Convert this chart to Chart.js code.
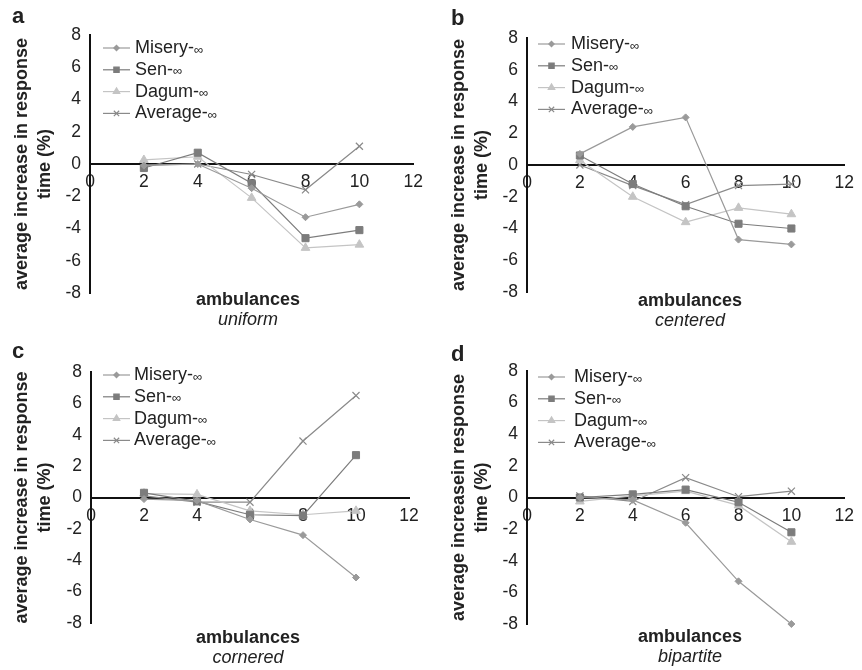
<!DOCTYPE html>
<html>
<head>
<meta charset="utf-8">
<script src="https://cdn.jsdelivr.net/npm/chart.js@4/dist/chart.umd.min.js"></script>
<style>
	body { margin: 0; background: #fff; }
	#wrap { position: relative; width: 862px; height: 670px; overflow: hidden; font-family: "Liberation Sans", Arial, sans-serif; color: #222; }
	canvas { position: absolute; }
	.lbl { position: absolute; font-weight: bold; font-size: 22px; line-height: 22px; }
	.xt { position: absolute; width: 200px; text-align: center; font-size: 18px; line-height: 20px; }
	.xt b { display: block; }
	.xt i { display: block; font-weight: normal; }
</style>
</head>
<body>
<div id="wrap">
	<canvas id="pa" width="431" height="335" style="left:0;top:0"></canvas>
	<canvas id="pb" width="431" height="335" style="left:431px;top:0"></canvas>
	<canvas id="pc" width="431" height="335" style="left:0;top:335px"></canvas>
	<canvas id="pd" width="431" height="335" style="left:431px;top:335px"></canvas>
	<div class="lbl" style="left:12px;top:5px">a</div>
	<div class="lbl" style="left:451px;top:7px">b</div>
	<div class="lbl" style="left:12px;top:340px">c</div>
	<div class="lbl" style="left:451px;top:343px">d</div>
	<div class="xt" style="left:148px;top:289px"><b>ambulances</b><i>uniform</i></div>
	<div class="xt" style="left:590px;top:290px"><b>ambulances</b><i>centered</i></div>
	<div class="xt" style="left:148px;top:627px"><b>ambulances</b><i>cornered</i></div>
	<div class="xt" style="left:590px;top:626px"><b>ambulances</b><i>bipartite</i></div>
</div>
<script>
var ambulances = [2, 4, 6, 8, 10]
var seriesNames = ['Misery-', 'Sen-', 'Dagum-', 'Average-']
var xTicks = [0, 2, 4, 6, 8, 10, 12]
var yTicks = [-8, -6, -4, -2, 0, 2, 4, 6, 8]

var uniformMisery = [-0.1, 0, -1.5, -3.3, -2.5]
var uniformSen = [-0.25, 0.7, -1.2, -4.6, -4.1]
var uniformDagum = [0.25, 0.45, -2.1, -5.2, -5.0]
var uniformAverage = [-0.05, 0, -0.65, -1.6, 1.1]

var centeredMisery = [0.7, 2.4, 3.0, -4.7, -5.0]
var centeredSen = [0.6, -1.2, -2.6, -3.7, -4.0]
var centeredDagum = [0.3, -2.0, -3.6, -2.7, -3.1]
var centeredAverage = [0, -1.3, -2.5, -1.3, -1.2]

var corneredMisery = [-0.1, -0.2, -1.4, -2.4, -5.1]
var corneredSen = [0.3, -0.25, -1.1, -1.15, 2.7]
var corneredDagum = [0.25, 0.2, -0.85, -1.1, -0.85]
var corneredAverage = [0.1, -0.3, -0.3, 3.6, 6.5]

var bipartiteMisery = [0, -0.15, -1.6, -5.3, -8.0]
var bipartiteSen = [0, 0.2, 0.5, -0.3, -2.2]
var bipartiteDagum = [-0.25, 0.1, 0.4, -0.5, -2.8]
var bipartiteAverage = [0.1, -0.25, 1.25, 0.05, 0.4]

var styles = [
	{ color: '#9a9a9a', point: 'rectRot', radius: 3.5 },
	{ color: '#7c7c7c', point: 'rect', radius: 5 },
	{ color: '#c4c4c4', point: 'triangle', radius: 5 },
	{ color: '#8a8a8a', point: 'crossRot', radius: 5 }
]

// legend drawn inside the plot, line with marker like the original
var lineLegend = {
	id: 'lineLegend',
	afterDatasetsDraw: function(chart, args, opts) {
		var ctx = chart.ctx
		var a = chart.chartArea
		ctx.save()
		chart.data.datasets.forEach(function(ds, i) {
			var y = a.top + opts.y + i * 21.8
			var x0 = a.left + opts.x
			ctx.strokeStyle = ds.borderColor
			ctx.lineWidth = 1.2
			ctx.beginPath()
			ctx.moveTo(x0, y)
			ctx.lineTo(x0 + 27, y)
			ctx.stroke()
			ctx.fillStyle = ds.backgroundColor
			Chart.helpers.drawPoint(ctx, { pointStyle: ds.pointStyle, radius: ds.pointRadius * 0.75, borderWidth: 1 }, x0 + 13.5, y)
			ctx.fillStyle = '#222'
			ctx.textBaseline = 'middle'
			ctx.textAlign = 'left'
			ctx.font = '18px "Liberation Sans", Arial, sans-serif'
			var tx = a.left + opts.tx
			ctx.fillText(seriesNames[i], tx, y)
			var w = ctx.measureText(seriesNames[i]).width
			ctx.font = '13px "Liberation Sans", Arial, sans-serif'
			ctx.fillText('\u221e', tx + w, y + 2)
		})
		ctx.restore()
	}
}

function createPanel(id, series, g, yTitle) {
	var ctx = document.getElementById(id).getContext('2d')
	var datasets = series.map(function(s, i) {
		var st = styles[i]
		return {
			label: seriesNames[i] + '\u221e',
			data: ambulances.map(function(x, k) { return { x: x, y: s[k] } }),
			borderColor: st.color,
			backgroundColor: st.color,
			pointBackgroundColor: st.color,
			pointBorderColor: st.color,
			borderWidth: 1.2,
			pointStyle: st.point,
			pointRadius: st.radius,
			pointBorderWidth: st.point == 'crossRot' ? 1.2 : 1,
			clip: false,
			tension: 0
		}
	})
	return new Chart(ctx, {
		type: 'line',
		data: { datasets: datasets },
		plugins: [lineLegend],
		options: {
			responsive: false,
			animation: false,
			events: [],
			layout: { padding: { top: g.top, right: 431 - g.right, bottom: 335 - g.bottom, left: 0 } },
			plugins: {
				legend: { display: false },
				tooltip: { enabled: false },
				lineLegend: g.legend
			},
			scales: {
				x: {
					type: 'linear',
					position: { y: 0 },
					min: 0,
					max: 12,
					afterBuildTicks: function(s) { s.ticks = xTicks.map(function(v) { return { value: v } }) },
					afterFit: function(s) { s.height = 0 },
					grid: { display: false, drawTicks: false },
					border: { display: true, color: '#111', width: 2 },
					ticks: { color: '#222', padding: 8, maxRotation: 0, font: { size: 17.5, family: '"Liberation Sans", Arial, sans-serif' } }
				},
				y: {
					type: 'linear',
					min: -8,
					max: 8,
					afterBuildTicks: function(s) { s.ticks = yTicks.map(function(v) { return { value: v } }) },
					afterFit: function(s) { s.width = g.axisX },
					grid: { display: false, drawTicks: false },
					border: { display: true, color: '#111', width: 2 },
					ticks: { color: '#222', padding: 9, font: { size: 17.5, family: '"Liberation Sans", Arial, sans-serif' } },
					title: {
						display: true,
						text: yTitle,
						color: '#222',
						padding: { top: g.tpad, bottom: 0 },
						font: { size: 18, weight: 'bold', family: '"Liberation Sans", Arial, sans-serif', lineHeight: 1.28 }
					}
				}
			}
		}
	})
}

var yTitleStd = ['average increase in response', 'time (%)']
createPanel('pa', [uniformMisery, uniformSen, uniformDagum, uniformAverage],
	{ axisX: 90, top: 35, right: 414, bottom: 293, tpad: 10.5, legend: { x: 13, y: 13, tx: 45 } }, yTitleStd)
createPanel('pb', [centeredMisery, centeredSen, centeredDagum, centeredAverage],
	{ axisX: 96, top: 38, right: 417, bottom: 292, tpad: 16.5, legend: { x: 11, y: 6, tx: 44 } }, yTitleStd)
createPanel('pc', [corneredMisery, corneredSen, corneredDagum, corneredAverage],
	{ axisX: 91, top: 37, right: 409, bottom: 288, tpad: 10.5, legend: { x: 12, y: 3, tx: 43 } }, yTitleStd)
createPanel('pd', [bipartiteMisery, bipartiteSen, bipartiteDagum, bipartiteAverage],
	{ axisX: 96, top: 36, right: 418, bottom: 289, tpad: 16.5, legend: { x: 11, y: 6, tx: 47 } }, ['average increasein response', 'time (%)'])
</script>
</body>
</html>
